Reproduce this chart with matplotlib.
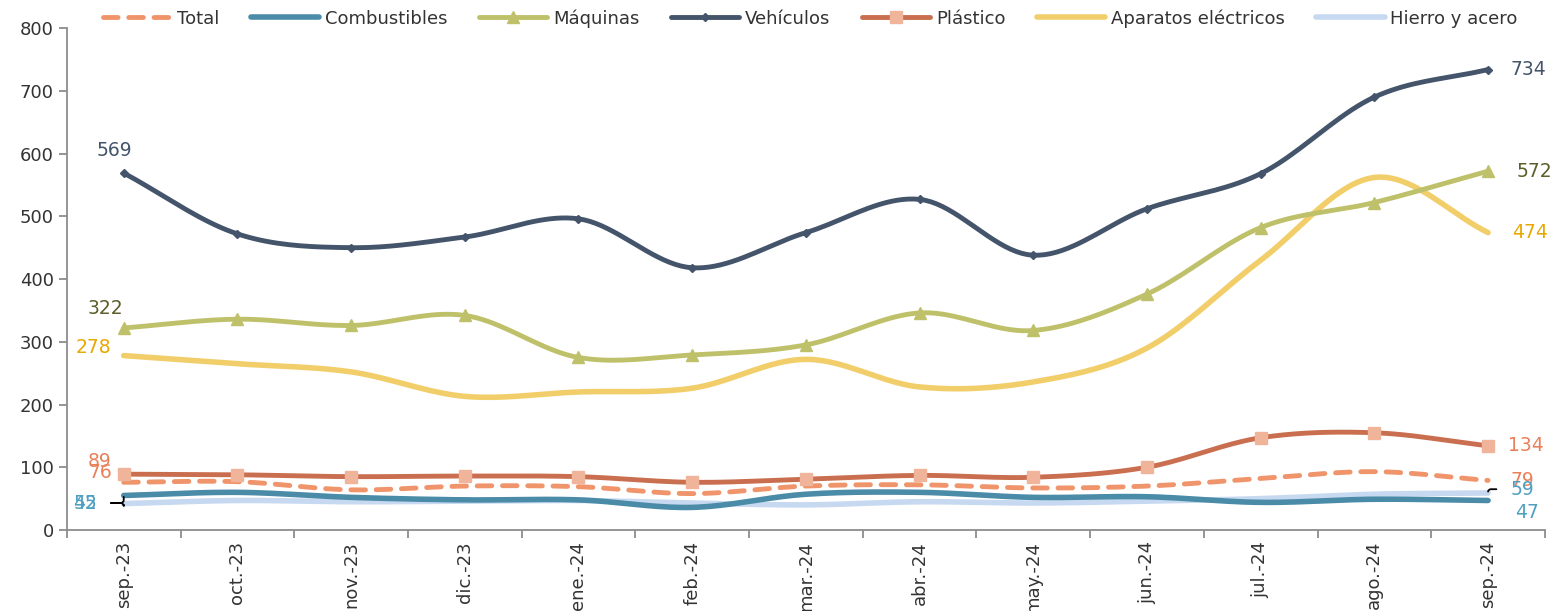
import numpy as np
import matplotlib.pyplot as plt

# ── data (millions) ─────────────────────────────────────────
meses = ['sep.-23', 'oct.-23', 'nov.-23', 'dic.-23', 'ene.-24', 'feb.-24', 'mar.-24',
         'abr.-24', 'may.-24', 'jun.-24', 'jul.-24', 'ago.-24', 'sep.-24']

total = [76, 77, 64, 70, 69, 58, 70, 72, 67, 70, 82, 93, 79]
combustibles = [55, 60, 52, 48, 48, 36, 57, 60, 52, 53, 44, 49, 47]
maquinas = [322, 336, 326, 342, 275, 279, 295, 346, 318, 376, 482, 522, 572]
vehiculos = [569, 472, 450, 467, 496, 418, 474, 527, 438, 512, 568, 690, 734]
plastico = [89, 88, 85, 86, 85, 76, 81, 87, 84, 100, 147, 155, 134]
aparatos = [278, 265, 252, 213, 220, 226, 272, 228, 236, 290, 430, 562, 474]
hierro = [42, 47, 45, 46, 47, 43, 40, 45, 43, 46, 50, 57, 59]

plt.rcParams['font.family'] = ['DejaVu Sans']


def smooth(y, n=20):
    # Catmull-Rom curve through the points, like Excel's smoothed line
    y = np.asarray(y, float)
    x = np.arange(len(y), dtype=float)
    px = np.concatenate([[2 * x[0] - x[1]], x, [2 * x[-1] - x[-2]]])
    py = np.concatenate([[2 * y[0] - y[1]], y, [2 * y[-1] - y[-2]]])
    xs, ys = [], []
    t = np.linspace(0, 1, n, endpoint=False)
    for i in range(1, len(px) - 2):
        for arr, out in ((px, xs), (py, ys)):
            p0, p1, p2, p3 = arr[i - 1:i + 3]
            out.extend(0.5 * (2 * p1 + (-p0 + p2) * t + (2 * p0 - 5 * p1 + 4 * p2 - p3) * t ** 2
                              + (-p0 + 3 * p1 - 3 * p2 + p3) * t ** 3))
    xs.append(x[-1]); ys.append(y[-1])
    return np.array(xs), np.array(ys)


fig = plt.figure(figsize=(15.55, 6.11), dpi=100)
ax = fig.add_axes([0.043, 0.1326, 0.9505, 0.8214])
xi = np.arange(len(meses))

series = [
    ('Total', total, dict(color='#F0956B', ls=(0, (3, 2.2)), lw=3.5), None),
    ('Combustibles', combustibles, dict(color='#4A8BA8', lw=4), None),
    ('Máquinas', maquinas, dict(color='#BFC16A', lw=3.5), dict(marker='^', ms=9, color='#BFC16A')),
    ('Vehículos', vehiculos, dict(color='#44546A', lw=3.5), dict(marker='D', ms=4.5, color='#44546A')),
    ('Plástico', plastico, dict(color='#C96E4E', lw=3.5), dict(marker='s', ms=9, color='#F0B49B')),
    ('Aparatos eléctricos', aparatos, dict(color='#F2CE6A', lw=4), None),
    ('Hierro y acero', hierro, dict(color='#C6D9F0', lw=4), None),
]
order = {'Hierro y acero': 1, 'Combustibles': 2, 'Total': 3, 'Plástico': 4,
         'Aparatos eléctricos': 5, 'Máquinas': 6, 'Vehículos': 7}
handles = []
for name, vals, style, mk in series:
    sx, sy = smooth(vals)
    ln, = ax.plot(sx, sy, solid_capstyle='round', dash_capstyle='round',
                  zorder=order[name], label=name, **style)
    if mk:
        ax.plot(xi, vals, ls='none', zorder=order[name] + 0.5, mec=mk['color'],
                mfc=mk['color'], marker=mk['marker'], ms=mk['ms'])
        h, = ax.plot([], [], color=style['color'], lw=style['lw'], marker=mk['marker'],
                     ms=mk['ms'], mfc=mk['color'], mec=mk['color'], solid_capstyle='round')
        handles.append(h)
    else:
        handles.append(ln)

fig.legend(handles, [s[0] for s in series], loc='center left', bbox_to_anchor=(0.066, 0.97),
           ncol=7, frameon=False, fontsize=13, handlelength=3.8, handletextpad=0.3,
           columnspacing=1.75, borderaxespad=0, borderpad=0, labelcolor='#333333')

# ── end labels ──────────────────────────────────────────────
lab = dict(fontsize=13.5, ha='center', va='center', textcoords='offset points')
ax.annotate(f'{vehiculos[0]}', (0, vehiculos[0]), xytext=(-7, 16), color='#44546A', **lab)
ax.annotate(f'{maquinas[0]}', (0, maquinas[0]), xytext=(-13, 14), color='#5C5E2B', **lab)
ax.annotate(f'{aparatos[0]}', (0, aparatos[0]), xytext=(-22, 6), color='#E8A800', **lab)
ax.annotate(f'{plastico[0]}', (0, plastico[0]), xytext=(-17, 9), color='#E9805A', **lab)
ax.annotate(f'{total[0]}', (0, total[0]), xytext=(-17, 7), color='#E9805A', **lab)
for v in (combustibles[0], hierro[0]):
    ax.annotate(f'{v}', (0, v), xytext=(-0.34, 43), textcoords='data', color='#4FA0C0',
                fontsize=13.5, ha='center', va='center',
                arrowprops=dict(arrowstyle='-', color='black', lw=1.3, shrinkA=8, shrinkB=1,
                                connectionstyle='angle,angleA=0,angleB=90,rad=3'))

ax.annotate(f'{vehiculos[-1]}', (12, vehiculos[-1]), xytext=(29, 0), color='#44546A', **lab)
ax.annotate(f'{maquinas[-1]}', (12, maquinas[-1]), xytext=(33, 0), color='#5C5E2B', **lab)
ax.annotate(f'{aparatos[-1]}', (12, aparatos[-1]), xytext=(30, 0), color='#E8A800', **lab)
ax.annotate(f'{plastico[-1]}', (12, plastico[-1]), xytext=(27, 0), color='#E9805A', **lab)
ax.annotate(f'{total[-1]}', (12, total[-1]), xytext=(25, 0), color='#E9805A', **lab)
ax.annotate(f'{hierro[-1]}', (12, hierro[-1]), xytext=(12.3, 65), textcoords='data', color='#4FA0C0',
            fontsize=13.5, ha='center', va='center',
            arrowprops=dict(arrowstyle='-', color='black', lw=1.3, shrinkA=8, shrinkB=1,
                            connectionstyle='angle,angleA=0,angleB=90,rad=3'))
ax.annotate(f'{combustibles[-1]}', (12, combustibles[-1]), xytext=(28, -9), color='#4FA0C0', **lab)

# ── axes ─────────────────────────────────────────────────────
ax.set_xlim(-0.5, 12.5)
ax.set_ylim(0, 800)
ax.set_yticks(range(0, 801, 100))
ax.set_xticks(xi)
ax.set_xticklabels(meses, rotation=90, va='top')
ax.set_xticks(np.arange(-0.5, 12.6, 1), minor=True)
ax.tick_params(axis='x', which='major', length=0, pad=8, labelsize=13, colors='#333333')
ax.tick_params(axis='x', which='minor', length=6, width=1.3, color='#8C8C8C')
ax.tick_params(axis='y', length=6, width=1.3, color='#8C8C8C', labelsize=13, labelcolor='#333333')
for s in ('top', 'right'):
    ax.spines[s].set_visible(False)
for s in ('left', 'bottom'):
    ax.spines[s].set_color('#8C8C8C')
    ax.spines[s].set_linewidth(1.3)
for t in ax.texts:
    t.set_clip_on(False)

plt.savefig('out.png', dpi=100)
